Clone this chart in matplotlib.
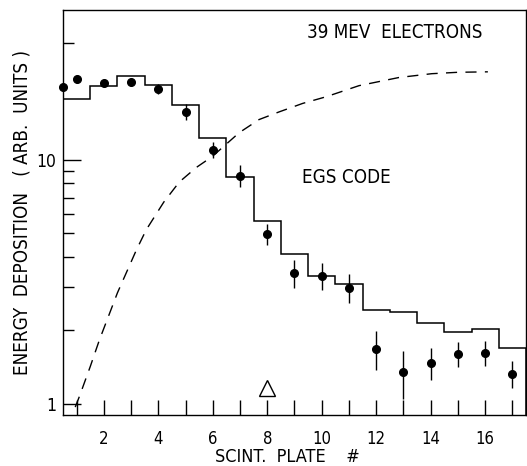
import matplotlib
matplotlib.use("Agg")
import matplotlib.pyplot as plt
from matplotlib.ticker import FixedLocator, NullFormatter

plt.rcParams['font.family'] = ['DejaVu Sans']
plt.rcParams['font.stretch'] = 'condensed'

# measured energy deposition per scintillator plate
plate = [0.5, 1, 2, 3, 4, 5, 6, 7, 8, 9, 10, 11, 12, 13, 14, 15, 16, 17]
energy = [19.9, 21.5, 20.7, 20.9, 19.5, 15.7, 11.0, 8.6, 4.97, 3.44, 3.35,
          2.99, 1.68, 1.35, 1.47, 1.60, 1.62, 1.33]
err = [0.6, 0.8, 0.8, 0.8, 1.0, 1.2, 0.8, 0.9, 0.5, 0.45, 0.42,
       0.4, 0.3, 0.3, 0.22, 0.19, 0.19, 0.17]

# EGS code prediction, one level per plate (0.5 .. 17.5 bin edges)
bin_edges = [0.5, 1.5, 2.5, 3.5, 4.5, 5.5, 6.5, 7.5, 8.5, 9.5, 10.5,
             11.5, 12.5, 13.5, 14.5, 15.5, 16.5, 17.5]
egs = [17.8, 20.1, 22.1, 20.3, 16.8, 12.3, 8.5, 5.62, 4.12, 3.35, 3.10,
       2.43, 2.38, 2.15, 1.97, 2.03, 1.70]

# dashed curve
curve_x = [0.95, 1.1, 1.5, 1.84, 2.5, 3.2, 3.56, 4.2, 4.77, 5.4, 5.98,
           6.97, 7.7, 8.44, 9.3, 10.16, 11.37, 12.83, 14.04, 15.0, 16.1]
curve_y = [0.97, 1.07, 1.42, 1.83, 2.85, 4.28, 5.17, 6.7, 8.1, 9.3, 10.3,
           12.9, 14.6, 15.7, 17.0, 18.1, 20.1, 21.7, 22.5, 22.8, 22.9]

fig = plt.figure(figsize=(5.27, 4.66), dpi=100)
ax = fig.add_axes([0.1195, 0.1094, 0.8786, 0.869])

ax.stairs(egs, bin_edges, color='black', linewidth=1.1)
ax.plot(curve_x, curve_y, color='black', linestyle=(0, (8, 6)), linewidth=1.0)
ax.errorbar(plate, energy, yerr=err, fmt='o', color='black', markersize=5.5,
            elinewidth=1.0, capsize=0, clip_on=False, zorder=5)
ax.plot([8], [1.16], marker='^', markersize=11, markerfacecolor='white',
        markeredgecolor='black', markeredgewidth=1.0, linestyle='none')

ax.set_yscale('log')
ax.set_xlim(0.5, 17.5)
ax.set_ylim(0.9, 41)

ax.xaxis.set_major_locator(FixedLocator(range(2, 17, 2)))
ax.xaxis.set_minor_locator(FixedLocator(range(1, 18, 2)))
ax.yaxis.set_major_locator(FixedLocator([1, 10]))
ax.yaxis.set_minor_locator(FixedLocator([2, 3, 4, 5, 6, 7, 8, 9, 30]))
ax.yaxis.set_minor_formatter(NullFormatter())
ax.set_yticklabels(['1', '10'])

ax.tick_params(axis='x', which='both', direction='in', length=11, width=1.0,
               labelsize=12, pad=11)
ax.tick_params(axis='y', which='major', direction='in', length=13, width=1.0,
               labelsize=12.5, pad=5)
ax.tick_params(axis='y', which='minor', direction='in', length=8, width=1.0)

for s in ax.spines.values():
    s.set_linewidth(1.0)

ax.set_xlabel('SCINT.  PLATE    #', fontsize=13)
ax.xaxis.set_label_coords(0.484, -0.104)
ax.xaxis.label.set_va('center')
ax.set_ylabel('ENERGY  DEPOSITION   ( ARB.  UNITS )', fontsize=13.5)
ax.yaxis.set_label_coords(-0.089, 0.50)
ax.yaxis.label.set_va('center')

ax.text(9.46, 33.1, '39 MEV  ELECTRONS', fontsize=13.5, va='center')
ax.text(9.27, 8.43, 'EGS CODE', fontsize=13.5, va='center')

fig.savefig('out.png', dpi=100)
